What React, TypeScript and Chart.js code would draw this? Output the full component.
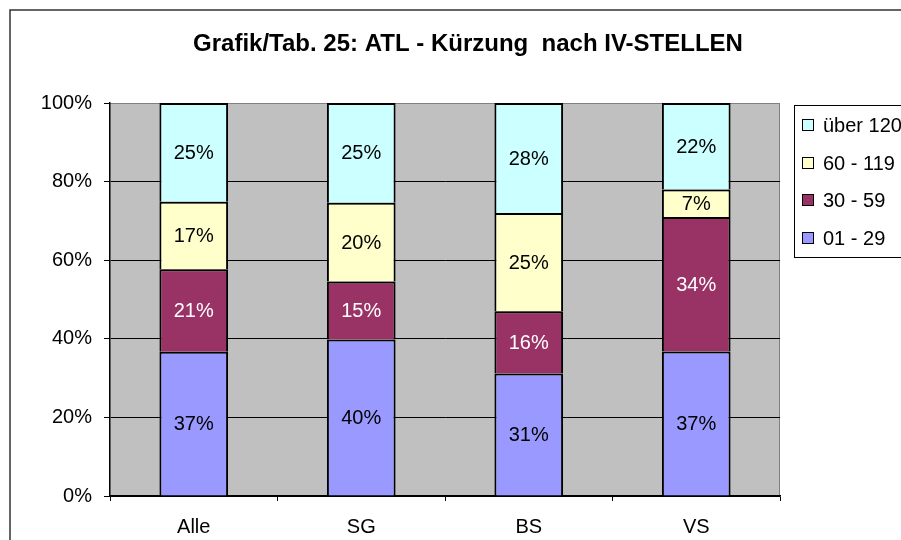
import React, { useEffect, useRef } from "react";
import { Chart, registerables } from "chart.js";

Chart.register(...registerables);

const TITLE = "Grafik/Tab. 25: ATL - Kürzung  nach IV-STELLEN";
const categories = ["Alle", "SG", "BS", "VS"];
const seriesNames = ["01 - 29", "30 - 59", "60 - 119", "über 120"];
const s0129 = [36.7, 39.8, 31.2, 36.8];
const s3059 = [21.0, 14.8, 15.8, 34.2];
const s60119 = [17.2, 20.0, 25.0, 7.0];
const sUeber120 = [25.1, 25.4, 28.0, 22.0];
const seriesColors = ["#9999FF", "#993366", "#FFFFCC", "#CCFFFF"];
const labelColors = ["#000000", "#FFFFFF", "#000000", "#000000"];
const yTicks = [0, 20, 40, 60, 80, 100];

const FONT = '"Liberation Sans", Arial, Helvetica, sans-serif';

const customPlugin = {
  id: "customDraw",
  beforeDraw(chart: any) {
    const { ctx, chartArea: a } = chart;
    ctx.save();
    ctx.fillStyle = "#FFFFFF";
    ctx.fillRect(0, 0, chart.width, chart.height);
    ctx.fillStyle = "#C0C0C0";
    ctx.fillRect(a.left, a.top, a.right - a.left, a.bottom - a.top);
    ctx.strokeStyle = "#808080";
    ctx.lineWidth = 1;
    ctx.beginPath();
    ctx.moveTo(a.left, a.top + 0.5);
    ctx.lineTo(a.right - 0.5, a.top + 0.5);
    ctx.lineTo(a.right - 0.5, a.bottom);
    ctx.stroke();
    // outer frame
    ctx.strokeStyle = "#333333";
    ctx.lineWidth = 1.5;
    ctx.strokeRect(10, 10, chart.width + 40, chart.height + 40);
    // title
    ctx.fillStyle = "#000000";
    ctx.font = `bold 24px ${FONT}`;
    ctx.textAlign = "center";
    ctx.textBaseline = "middle";
    ctx.fillText(TITLE, 468, 44);
    ctx.restore();
  },
  afterDatasetsDraw(chart: any) {
    const { ctx } = chart;
    ctx.save();
    ctx.font = `20px ${FONT}`;
    ctx.textAlign = "center";
    ctx.textBaseline = "middle";
    chart.data.datasets.forEach((ds: any, i: number) => {
      const meta = chart.getDatasetMeta(i);
      meta.data.forEach((el: any, j: number) => {
        const v = ds.data[j];
        const p = el.getProps(["x", "y", "base"], true);
        ctx.fillStyle = labelColors[i];
        ctx.fillText(Math.round(v) + "%", p.x, (p.y + p.base) / 2 + 1);
      });
    });
    ctx.restore();
  },
  afterDraw(chart: any) {
    const { ctx } = chart;
    ctx.save();
    ctx.fillStyle = "#FFFFFF";
    ctx.fillRect(794, 105, 200, 152);
    ctx.strokeStyle = "#000000";
    ctx.lineWidth = 1;
    ctx.strokeRect(794.5, 105.5, 200, 152);
    ctx.font = `20px ${FONT}`;
    ctx.textAlign = "left";
    ctx.textBaseline = "middle";
    const order = [3, 2, 1, 0];
    order.forEach((si, k) => {
      const cy = Math.round(125 + k * 37.7);
      ctx.fillStyle = seriesColors[si];
      ctx.fillRect(802, cy - 6, 12, 12);
      ctx.strokeStyle = "#000000";
      ctx.strokeRect(802.5, cy - 5.5, 11, 11);
      ctx.fillStyle = "#000000";
      ctx.fillText(seriesNames[si], 823, cy + 1);
    });
    ctx.restore();
  },
};

export default function App() {
  const ref = useRef<HTMLCanvasElement | null>(null);
  useEffect(() => {
    if (!ref.current) return;
    const seriesData = [s0129, s3059, s60119, sUeber120];
    const chart = new Chart(ref.current, {
      type: "bar",
      data: {
        labels: categories,
        datasets: seriesData.map((d, i) => ({
          label: seriesNames[i],
          data: d,
          backgroundColor: seriesColors[i],
          borderColor: "#000000",
          borderWidth: 2,
          borderSkipped: "start",
          categoryPercentage: 1,
          barPercentage: 0.41,
        })),
      },
      options: {
        responsive: false,
        animation: false,
        events: [],
        layout: { padding: { top: 103, left: 0, right: 121, bottom: 0 } },
        plugins: {
          legend: { display: false },
          title: { display: false },
          tooltip: { enabled: false },
        },
        scales: {
          x: {
            stacked: true,
            grid: {
              display: true,
              drawOnChartArea: false,
              drawTicks: true,
              tickLength: 5,
              tickColor: "#000000",
              offset: true,
            },
            border: { display: true, color: "#000000", width: 1.5 },
            ticks: { color: "#000000", font: { family: FONT, size: 20 }, padding: 14 },
            afterFit(s: any) {
              s.height = 44;
            },
          },
          y: {
            stacked: true,
            min: 0,
            max: 100,
            afterBuildTicks(s: any) {
              s.ticks = yTicks.map((v) => ({ value: v }));
            },
            ticks: {
              color: "#000000",
              font: { family: FONT, size: 20 },
              padding: 12,
              callback: (v: any) => v + "%",
            },
            grid: {
              color: (c: any) => (c.tick && c.tick.value === 100 ? "#808080" : "#000000"),
              tickColor: "#000000",
              tickLength: 6,
              lineWidth: 1,
            },
            border: { display: true, color: "#000000", width: 1.5 },
            afterFit(s: any) {
              s.width = 110;
            },
          },
        },
      },
      plugins: [customPlugin],
    });
    return () => chart.destroy();
  }, []);
  return (
    <div style={{ position: "absolute", left: 0, top: 0, width: 901, height: 540, background: "#fff" }}>
      <canvas ref={ref} width={901} height={540} />
    </div>
  );
}
